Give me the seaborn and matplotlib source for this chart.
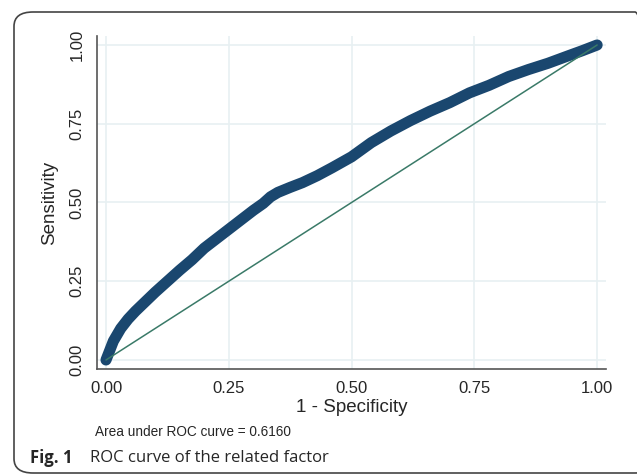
import numpy as np
import pandas as pd
import matplotlib
matplotlib.use("Agg")
import matplotlib.pyplot as plt
import seaborn as sns
from matplotlib.patches import FancyBboxPatch

# ROC curve points
fpr = [0.0, 0.005, 0.015, 0.03, 0.045, 0.06, 0.08, 0.10, 0.125, 0.15,
       0.175, 0.20, 0.225, 0.25, 0.275, 0.30, 0.32, 0.335, 0.35, 0.375,
       0.40, 0.43, 0.46, 0.50, 0.54, 0.58, 0.62, 0.66, 0.70, 0.74,
       0.78, 0.82, 0.86, 0.90, 0.94, 0.97, 1.0]
tpr = [0.0, 0.02, 0.06, 0.10, 0.13, 0.155, 0.185, 0.215, 0.25, 0.285,
       0.318, 0.355, 0.385, 0.415, 0.445, 0.475, 0.497, 0.518, 0.532, 0.548,
       0.563, 0.585, 0.61, 0.645, 0.69, 0.727, 0.76, 0.79, 0.817, 0.848,
       0.872, 0.90, 0.922, 0.942, 0.965, 0.982, 1.0]
ref = [0.0, 1.0]
ticks = [0.0, 0.25, 0.5, 0.75, 1.0]
tick_labels = ["0.00", "0.25", "0.50", "0.75", "1.00"]
auc_text = "Area under ROC curve = 0.6160"

df = pd.DataFrame({"fpr": fpr, "tpr": tpr})

sns.set_style("white")
plt.rcParams["font.family"] = ["Liberation Sans", "DejaVu Sans"]

fig = plt.figure(figsize=(6.37, 4.76), dpi=100)
ax = fig.add_axes([0.1523, 0.2248, 0.799, 0.6996])

# grid
for t in ticks:
    ax.axhline(t, color="#e8f0f2", lw=1.2, zorder=0)
    ax.axvline(t, color="#e8f0f2", lw=1.2, zorder=0)

sns.lineplot(data=df, x="fpr", y="tpr", sort=False, ax=ax, color="#1a476f",
             lw=8, solid_capstyle="round", solid_joinstyle="round", zorder=3)
sns.lineplot(x=ref, y=ref, ax=ax, color="#3a7a68", lw=1.1, zorder=4)

ax.set_xlim(-0.0183, 1.018)
ax.set_ylim(-0.0286, 1.0286)
ax.set_xticks(ticks)
ax.set_xticklabels(tick_labels, fontsize=12, family="Liberation Sans")
ax.set_yticks(ticks)
ax.set_yticklabels(tick_labels, fontsize=12, rotation=90, va="center",
                   family="Liberation Sans")
ax.tick_params(axis="both", direction="out", length=5, width=1, color="#555555",
               pad=4)
for s in ["top", "right"]:
    ax.spines[s].set_visible(False)
for s in ["left", "bottom"]:
    ax.spines[s].set_color("#555555")
    ax.spines[s].set_linewidth(1.2)

ax.set_xlabel("1 - Specificity", fontsize=13.5, labelpad=2)
ax.set_ylabel("Sensitivity", fontsize=13.5, labelpad=8)

fig.text(95 / 637, 1 - 432 / 476, auc_text, fontsize=9.8, va="center", ha="left")

# caption
fig.text(30 / 637, 1 - 458 / 476, "Fig. 1", fontsize=12, fontweight="bold",
         family="Open Sans", va="center", ha="left")
fig.text(90 / 637, 1 - 458 / 476, "ROC curve of the related factor", fontsize=12,
         family="Open Sans", va="center", ha="left")

# rounded frame
frame = FancyBboxPatch((14 / 637, 3 / 476), 640 / 637, (476 - 15) / 476,
                       boxstyle="round,pad=0,rounding_size=0.03",
                       transform=fig.transFigure, fill=False,
                       edgecolor="#444444", lw=1.2, clip_on=False)
fig.patches.append(frame)

fig.savefig("out.png", dpi=100)
